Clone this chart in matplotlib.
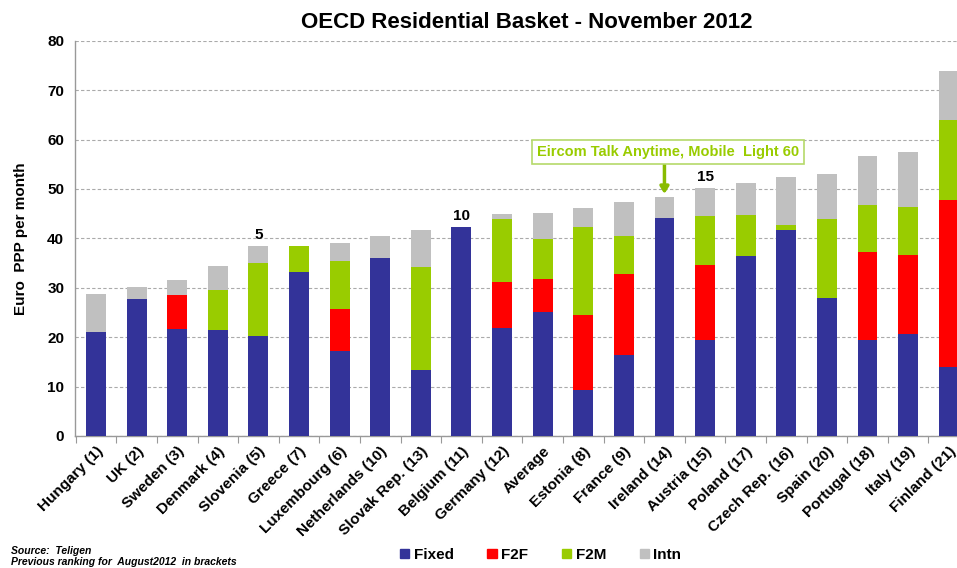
import matplotlib
matplotlib.use("Agg")
import matplotlib.pyplot as plt
from matplotlib.patches import Rectangle
import numpy as np

categories = ["Hungary (1)", "UK (2)", "Sweden (3)", "Denmark (4)", "Slovenia (5)", "Greece (7)",
              "Luxembourg (6)", "Netherlands (10)", "Slovak Rep. (13)", "Belgium (11)", "Germany (12)",
              "Average", "Estonia (8)", "France (9)", "Ireland (14)", "Austria (15)", "Poland (17)",
              "Czech Rep. (16)", "Spain (20)", "Portugal (18)", "Italy (19)", "Finland (21)"]
fixed = [21.0, 27.7, 21.7, 21.5, 20.3, 33.1, 17.2, 36.0, 13.3, 42.4, 21.9,
         25.0, 9.4, 16.4, 44.1, 19.4, 36.4, 41.7, 28.0, 19.4, 20.6, 14.0]
f2f = [0, 0, 6.8, 0, 0, 0, 8.5, 0, 0, 0, 9.3,
       6.7, 15.1, 16.3, 0, 15.2, 0, 0, 0, 17.9, 16.1, 33.8]
f2m = [0, 0, 0, 8.1, 14.7, 5.4, 9.8, 0, 21.0, 0, 12.8,
       8.1, 17.8, 7.8, 0, 9.9, 8.4, 1.1, 15.9, 9.4, 9.7, 16.2]
intn = [7.7, 2.4, 3.1, 4.9, 3.4, 0, 3.5, 4.4, 7.4, 0, 0.9,
        5.3, 3.8, 6.8, 4.3, 5.7, 6.5, 9.6, 9.2, 10.0, 11.1, 9.8]
series_names = ["Fixed", "F2F", "F2M", "Intn"]
colors = ["#333399", "#ff0000", "#99cc00", "#c0c0c0"]
rank_marks = {"Slovenia (5)": "5", "Belgium (11)": "10", "Austria (15)": "15"}

plt.rcParams['font.family'] = ['Liberation Sans', 'DejaVu Sans']

fig = plt.figure(figsize=(9.57, 5.68), dpi=100)
ax = fig.add_axes([0.0787, 0.2324, 0.9338, 0.6959])

x = np.arange(len(categories))
bottom = np.zeros(len(categories))
handles = []
for name, vals, c in zip(series_names, [fixed, f2f, f2m, intn], colors):
    vals = np.array(vals)
    ax.bar(x, vals, 0.49, bottom=bottom, color=c, zorder=3, linewidth=0)
    bottom += vals
    handles.append(Rectangle((0, 0), 1, 1, color=c))

ax.set_xlim(-0.51, 21.5)
ax.set_ylim(0, 80)
ax.set_yticks(np.arange(0, 81, 10))
ax.tick_params(axis='y', length=0, labelsize=11, pad=8)
for lbl in ax.get_yticklabels():
    lbl.set_fontweight('bold')
ax.yaxis.grid(True, linestyle=(0, (3, 2)), color='#aaaaaa', linewidth=0.8, zorder=0)
ax.set_axisbelow(True)

ax.set_xticks(x)
ax.set_xticklabels(categories, rotation=45, ha='right', rotation_mode='anchor',
                   fontsize=11, fontweight='bold')
ax.tick_params(axis='x', length=0, pad=6)
ax.set_xticks(np.arange(-0.5, 21.6, 1), minor=True)
ax.tick_params(axis='x', which='minor', length=5, color='#999999', width=0.8)

for s in ['top', 'right']:
    ax.spines[s].set_visible(False)
for s in ['left', 'bottom']:
    ax.spines[s].set_color('#999999')
    ax.spines[s].set_linewidth(1.0)

ax.set_ylabel("Euro  PPP per month", fontsize=11, fontweight='bold', labelpad=14)

totals = bottom
for i, cat in enumerate(categories):
    if cat in rank_marks:
        ax.text(i, totals[i] + 0.8, rank_marks[cat], ha='center', va='bottom',
                fontsize=11, fontweight='bold')

irl = categories.index("Ireland (14)")
ax.text(irl + 0.08, 57.5, "Eircom Talk Anytime, Mobile  Light 60",
        ha='center', va='center', fontsize=10.5, fontweight='bold', color='#99cc00',
        bbox=dict(boxstyle='square,pad=0.35', fc='white', ec='#b5d96a', lw=1.2), zorder=6)
ax.annotate("", xy=(irl, totals[irl] + 0.6), xytext=(irl, 55.6),
            arrowprops=dict(arrowstyle='-|>,head_width=0.25,head_length=0.4',
                            color='#88bb00', lw=2.5, shrinkA=0, shrinkB=0),
            zorder=5)

fig.suptitle("OECD Residential Basket - November 2012", x=0.55, y=0.978,
             fontsize=16, fontweight='bold')

fig.legend(handles, series_names, loc='center', bbox_to_anchor=(0.565, 0.023), ncol=4,
           frameon=False, handlelength=0.6, handleheight=0.6, handletextpad=0.3,
           columnspacing=2.2, prop=dict(weight='bold', size=11))

fig.text(0.011, 0.03, "Source:  Teligen", fontsize=7.5, fontweight='bold', style='italic',
         va='center')
fig.text(0.011, 0.01, "Previous ranking for  August2012  in brackets", fontsize=7.5,
         fontweight='bold', style='italic', va='center')

fig.savefig("out.png", dpi=100)
